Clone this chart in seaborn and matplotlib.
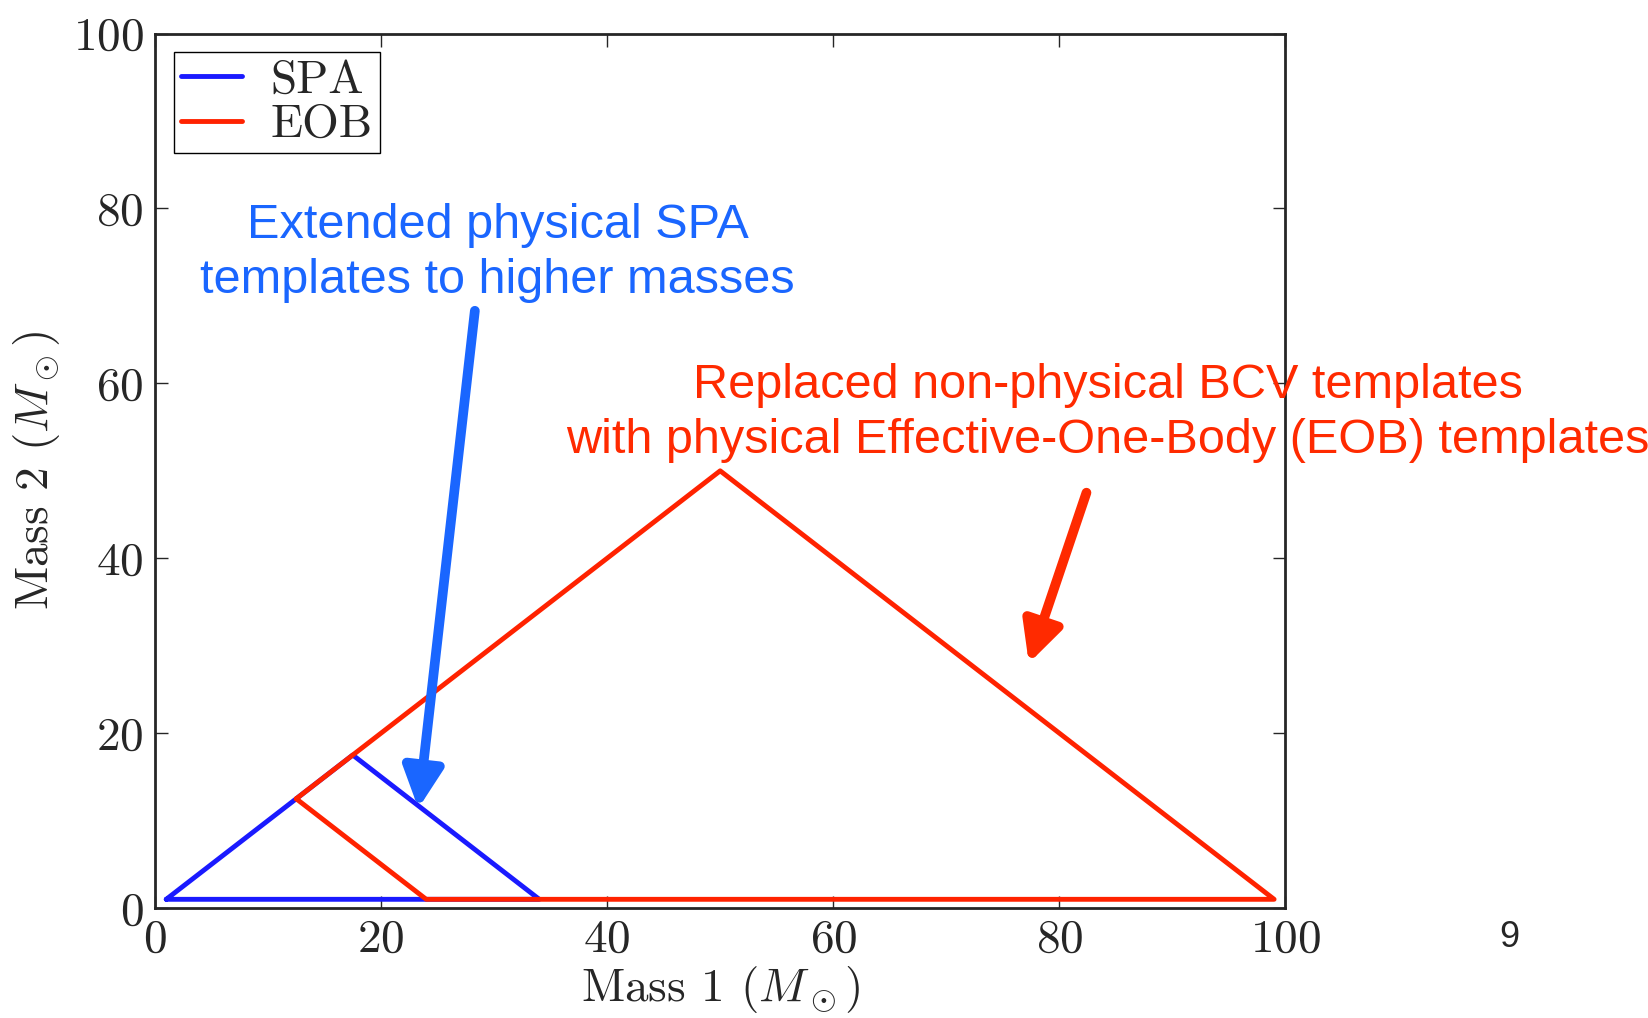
import pandas as pd
import matplotlib
matplotlib.use('Agg')
import matplotlib.pyplot as plt
import seaborn as sns

# template bank boundaries (component masses in solar masses)
spa_m1 = [1, 17.5, 34, 1]
spa_m2 = [1, 17.5, 1, 1]
eob_m1 = [12.5, 50, 99, 24, 12.5]
eob_m2 = [12.5, 50, 1, 1, 12.5]

blue_text = 'Extended physical SPA\ntemplates to higher masses'
red_text = 'Replaced non-physical BCV templates\nwith physical Effective-One-Body (EOB) templates'

data = pd.concat([
    pd.DataFrame({'m1': spa_m1, 'm2': spa_m2, 'template': 'SPA'}),
    pd.DataFrame({'m1': eob_m1, 'm2': eob_m2, 'template': 'EOB'}),
], ignore_index=True)

sns.set_style('ticks')
plt.rcParams['font.family'] = ['cmr10']
plt.rcParams['mathtext.fontset'] = 'cm'
plt.rcParams['axes.unicode_minus'] = False
plt.rcParams['axes.formatter.use_mathtext'] = True

fig = plt.figure(figsize=(16.48, 10.18), dpi=100)
ax = fig.add_axes([0.094, 0.108, 0.686, 0.859])

sns.lineplot(data=data, x='m1', y='m2', hue='template', sort=False, estimator=None,
             palette={'SPA': '#1a1aff', 'EOB': '#ff2200'}, lw=3.5, ax=ax)

ax.set_xlim(0, 100)
ax.set_ylim(0, 100)
ax.set_xticks(range(0, 101, 20))
ax.set_yticks(range(0, 101, 20))
ax.tick_params(direction='in', length=9, width=1, top=True, right=True, labelsize=34, pad=8)
for s in ax.spines.values():
    s.set_linewidth(2)
    s.set_visible(True)

ax.set_xlabel(r'Mass 1 $(M_\odot)$', fontsize=34, labelpad=2)
ax.set_ylabel(r'Mass 2 $(M_\odot)$', fontsize=34, labelpad=8)

leg = ax.legend(loc='upper left', fontsize=34, fancybox=False, framealpha=1,
                edgecolor='black', handlelength=1.3, borderaxespad=0.4,
                borderpad=0.15, labelspacing=0.05, handletextpad=0.6)
leg.get_frame().set_linewidth(1)
for h in leg.get_lines():
    h.set_linewidth(3.5)

sans = ['Liberation Sans', 'DejaVu Sans']
ax.annotate('', xy=(23.3, 11.4), xytext=(28.3, 68.3),
            arrowprops=dict(arrowstyle='-|>,head_length=1.2,head_width=0.6', lw=7,
                            color='#1a66ff', shrinkA=0, shrinkB=0, mutation_scale=20))
ax.text(30.3, 74.9, blue_text, color='#1a66ff', fontsize=35, family=sans,
        ha='center', va='center', linespacing=1.3)

ax.annotate('', xy=(77.3, 28.0), xytext=(82.4, 47.5),
            arrowprops=dict(arrowstyle='-|>,head_length=1.2,head_width=0.6', lw=7,
                            color='#ff2a00', shrinkA=0, shrinkB=0, mutation_scale=20))
ax.text(84.3, 56.6, red_text, color='#ff2a00', fontsize=35, family=sans,
        ha='center', va='center', linespacing=1.3, clip_on=False)

fig.text(0.916, 0.079, '9', fontsize=26, family=sans, ha='center', va='center')

fig.savefig('out.png', dpi=100)
